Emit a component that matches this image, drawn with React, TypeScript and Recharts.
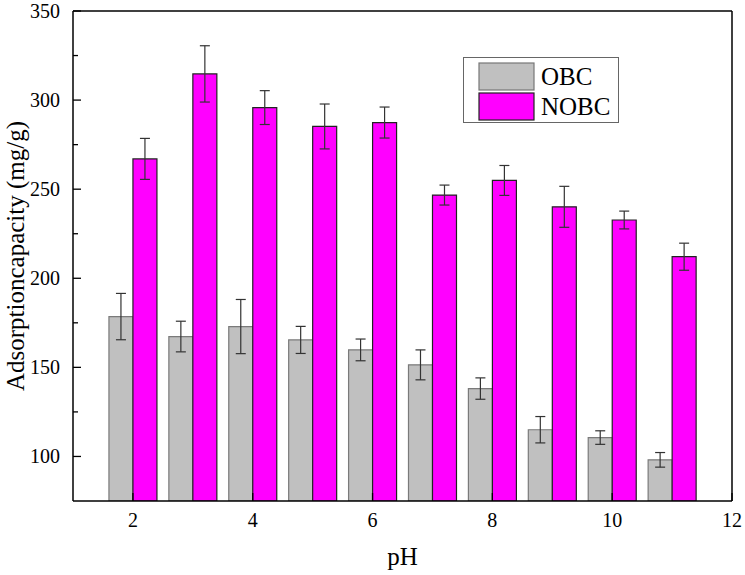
import React from "react";
import { ComposedChart, Bar, XAxis, YAxis, ErrorBar, Legend, ReferenceLine } from "recharts";

// pH values and adsorption capacities (mg/g)
const phValues = [2, 3, 4, 5, 6, 7, 8, 9, 10, 11];
const obcValues = [178.5, 167.3, 172.9, 165.4, 159.8, 151.4, 138.1, 115.0, 110.6, 98.1];
const obcErrors = [13.0, 8.6, 15.2, 7.6, 6.1, 8.4, 6.0, 7.4, 3.8, 4.1];
const nobcValues = [267.0, 314.7, 295.8, 285.2, 287.4, 246.7, 254.9, 240.1, 232.7, 212.1];
const nobcErrors = [11.5, 15.8, 9.5, 12.6, 8.7, 5.6, 8.4, 11.5, 5.0, 7.6];

const seriesOrder = ["OBC", "NOBC"];
const xDomain = [1, 12];
const yDomain = [75, 350];
const xTicks = [2, 4, 6, 8, 10, 12];
const yMajorTicks = [100, 150, 200, 250, 300, 350];
const yMinorTicks = [125, 175, 225, 275, 325];

const FONT = '"Liberation Serif", "Times New Roman", serif';

const data = phValues.map((ph, i) => ({
  ph,
  OBC: obcValues[i],
  obcErr: obcErrors[i],
  NOBC: nobcValues[i],
  nobcErr: nobcErrors[i],
}));

const YTick = ({ x, y, payload }: any) => {
  const major = yMajorTicks.includes(payload.value);
  return (
    <g>
      <line x1={x} x2={x + (major ? 8 : 5)} y1={y} y2={y} stroke="#000" strokeWidth={1.3} />
      {major && (
        <text x={x - 13} y={y} dy="0.35em" textAnchor="end" fontSize={20} fontFamily={FONT} fill="#000">
          {payload.value}
        </text>
      )}
    </g>
  );
};

const XTick = ({ x, y, payload }: any) => (
  <g>
    <line x1={x} x2={x} y1={y} y2={y - 8} stroke="#000" strokeWidth={1.3} />
    <text x={x} y={y + 26} textAnchor="middle" fontSize={20} fontFamily={FONT} fill="#000">
      {payload.value}
    </text>
  </g>
);

const LegendBox = ({ payload }: any) => {
  const items = [...(payload || [])].sort(
    (a: any, b: any) => seriesOrder.indexOf(a.value) - seriesOrder.indexOf(b.value)
  );
  return (
    <svg width={156} height={66} style={{ display: "block" }}>
      <rect x={0.5} y={0.5} width={155} height={65} fill="#fff" stroke="#666" strokeWidth={1} />
      {items.map((entry: any, i: number) => (
        <g key={entry.value}>
          <rect
            x={16}
            y={6 + i * 30}
            width={55}
            height={27}
            fill={entry.color}
            stroke={i === 0 ? "#777" : "#222"}
            strokeWidth={1.2}
          />
          <text x={78} y={28 + i * 30} fontSize={25} fontFamily={FONT} fill="#000">
            {entry.value}
          </text>
        </g>
      ))}
    </svg>
  );
};

export default function App() {
  return (
    <div style={{ position: "absolute", left: 0, top: 0, width: 745, height: 575, background: "#fff" }}>
      <ComposedChart
        width={745}
        height={575}
        data={data}
        margin={{ top: 11, right: 13, bottom: 0, left: 0 }}
        barCategoryGap="10%"
        barGap={0}
      >
        <XAxis
          dataKey="ph"
          type="number"
          domain={xDomain}
          ticks={xTicks}
          interval={0}
          allowDataOverflow
          height={74}
          tickSize={0}
          tickMargin={0}
          tick={(p: any) => <XTick {...p} />}
          axisLine={{ stroke: "#000", strokeWidth: 1.5 }}
          label={{ value: "pH", position: "insideBottom", offset: 10, fontSize: 25, fill: "#000", fontFamily: FONT }}
        />
        <YAxis
          type="number"
          domain={yDomain}
          ticks={[...yMajorTicks, ...yMinorTicks].sort((a, b) => a - b)}
          interval={0}
          allowDataOverflow
          width={73}
          tickSize={0}
          tickMargin={0}
          tick={(p: any) => <YTick {...p} />}
          axisLine={{ stroke: "#000", strokeWidth: 1.5 }}
          label={{
            value: "Adsorptioncapacity (mg/g)",
            angle: -90,
            position: "insideLeft",
            offset: 15,
            fontSize: 25,
            fill: "#000",
            fontFamily: FONT,
            style: { textAnchor: "middle" },
          }}
        />
        <Legend
          layout="vertical"
          align="center"
          verticalAlign="middle"
          content={(props: any) => <LegendBox {...props} />}
          wrapperStyle={{ left: 463, top: 57, width: 156, height: 66 }}
        />
        <Bar dataKey="OBC" name="OBC" fill="#c0c0c0" stroke="#7a7a7a" strokeWidth={1.2} isAnimationActive={false}>
          <ErrorBar dataKey="obcErr" width={5} stroke="#333" strokeWidth={1.2} direction="y" />
        </Bar>
        <Bar dataKey="NOBC" name="NOBC" fill="#ff00ff" stroke="#222" strokeWidth={1.2} isAnimationActive={false}>
          <ErrorBar dataKey="nobcErr" width={5} stroke="#333" strokeWidth={1.2} direction="y" />
        </Bar>
        {/* frame: top and right borders */}
        <ReferenceLine y={yDomain[1]} stroke="#000" strokeWidth={1.5} />
        <ReferenceLine x={xDomain[1]} stroke="#000" strokeWidth={1.5} />
      </ComposedChart>
    </div>
  );
}
